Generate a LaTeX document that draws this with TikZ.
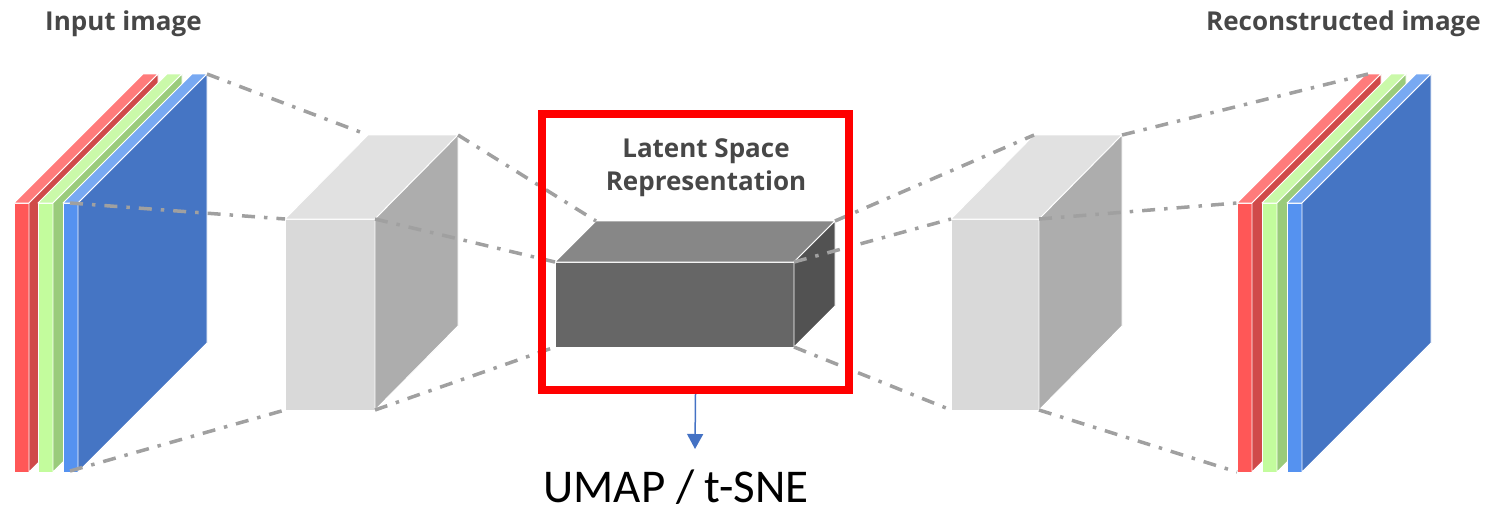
\documentclass[tikz,border=0pt]{standalone}
\usepackage{fontspec}
\setmainfont{Open Sans}
\newfontfamily\umapfont{Carlito}
\usetikzlibrary{arrows.meta}
\definecolor{redF}{HTML}{FF5757}
\definecolor{redT}{HTML}{FF7B7B}
\definecolor{redS}{HTML}{D04A4A}
\definecolor{greenF}{HTML}{C3FC9D}
\definecolor{greenT}{HTML}{CAF9A9}
\definecolor{greenS}{HTML}{9ACB7B}
\definecolor{blueF}{HTML}{5592F0}
\definecolor{blueT}{HTML}{78A9F2}
\definecolor{blueS}{HTML}{4575C4}
\definecolor{grayF}{HTML}{D9D9D9}
\definecolor{grayT}{HTML}{E1E1E1}
\definecolor{grayS}{HTML}{ADADAD}
\definecolor{latF}{HTML}{666666}
\definecolor{latT}{HTML}{878787}
\definecolor{latS}{HTML}{525252}
\definecolor{linkgray}{HTML}{A0A0A0}
\definecolor{titlegray}{HTML}{474747}
\definecolor{arrowblue}{HTML}{4472C4}
\tikzset{
  face/.style={draw=white, line width=0.9pt, line join=round},
  link/.style={draw=linkgray, line width=3.5pt, dash pattern=on 13pt off 9pt on 3.5pt off 9pt},
  title/.style={font=\bfseries\fontsize{26}{33}\selectfont, text=titlegray, inner sep=0pt},
}
% slab: #1 left x, #2 front, #3 top, #4 side
\newcommand\myslab[4]{%
  \path[face, fill=#2] (#1,203) rectangle ++(15,269);
  \path[face, fill=#3] (#1,203) -- ++(15,0) -- ++(129,-129) -- ++(-15,0) -- cycle;
  \path[face, fill=#4] (#1+15,203) -- ++(129,-129) -- ++(0,269) -- ++(-129,129) -- cycle;
}
% box: #1 x0, #2 y0, #3 w, #4 h, #5 dx, #6 dy, #7 front, #8 top, #9 side
\newcommand\mybox[9]{%
  \path[face, fill=#7] (#1,#2) rectangle ++(#3,#4);
  \path[face, fill=#8] (#1,#2) -- ++(#3,0) -- ++(#5,-#6) -- ++(-#3,0) -- cycle;
  \path[face, fill=#9] (#1+#3,#2) -- ++(#5,-#6) -- ++(0,#4) -- ++(-#5,#6) -- cycle;
}
\begin{document}
\begin{tikzpicture}[x=1pt, y=-1pt]
\useasboundingbox (0,0) rectangle (1491,512);

% titles
\node[title, anchor=base west] (intitle) at (45,30) {Input image};
\node[title, anchor=base east] (outtitle) at (1481,30) {Reconstructed image};

% input stack
\myslab{14}{redF}{redT}{redS}
\myslab{38}{greenF}{greenT}{greenS}
\myslab{63}{blueF}{blueT}{blueS}

% output stack
\myslab{1237}{redF}{redT}{redS}
\myslab{1262}{greenF}{greenT}{greenS}
\myslab{1287}{blueF}{blueT}{blueS}

% encoder / latent / decoder boxes
\mybox{285}{219}{90}{191}{83}{84}{grayF}{grayT}{grayS}
\mybox{555}{262}{239}{85}{41}{41}{latF}{latT}{latS}
\mybox{951}{219}{88}{191}{83}{84}{grayF}{grayT}{grayS}

% corner coordinates
\coordinate (inTop) at (207,74);
\coordinate (inMid) at (70,203);
\coordinate (inBot) at (70,471);
\coordinate (encTBL) at (368,135);
\coordinate (encTBR) at (458,135);
\coordinate (encFTL) at (285,219);
\coordinate (encFTR) at (375,219);
\coordinate (encFBL) at (285,410);
\coordinate (encFBR) at (375,410);
\coordinate (latTBL) at (596,221);
\coordinate (latTBR) at (835,221);
\coordinate (latFTL) at (555,262);
\coordinate (latFTR) at (794,262);
\coordinate (latFBL) at (555,347);
\coordinate (latFBR) at (794,347);
\coordinate (decTBL) at (1034,135);
\coordinate (decTBR) at (1122,135);
\coordinate (decFTL) at (951,219);
\coordinate (decFTR) at (1039,219);
\coordinate (decFBL) at (951,410);
\coordinate (decFBR) at (1039,410);
\coordinate (outTop) at (1368,74);
\coordinate (outMid) at (1237,203);
\coordinate (outBot) at (1237,472);

% dash-dot projection lines
\draw[link] (inTop) -- (encTBL);
\draw[link] (inMid) -- (encFTL);
\draw[link] (inBot) -- (encFBL);
\draw[link] (encTBR) -- (latTBL);
\draw[link] (encFTR) -- (latFTL);
\draw[link] (encFBR) -- (latFBL);
\draw[link] (latTBR) -- (decTBL);
\draw[link] (latFTR) -- (decFTL);
\draw[link] (latFBR) -- (decFBL);
\draw[link] (decTBR) -- (outTop);
\draw[link] (decFTR) -- (outMid);
\draw[link] (decFBR) -- (outBot);

% latent label and frame
\node[title, align=center] (latlabel) at (706,168) {Latent Space\\Representation};
\node[draw=red, line width=8pt, minimum width=307pt, minimum height=276pt, inner sep=0pt] (frame) at (695.5,252) {};

% UMAP arrow
\coordinate (umaptip) at (695,449);
\draw[arrowblue, line width=1.5pt, -{Triangle[width=16pt,length=15pt]}] (frame.south) -- (umaptip);
\node[font=\umapfont\fontsize{47}{54}\selectfont, anchor=base, inner sep=0pt] (umap) at (676,502) {UMAP / t-SNE};
\end{tikzpicture}
\end{document}
